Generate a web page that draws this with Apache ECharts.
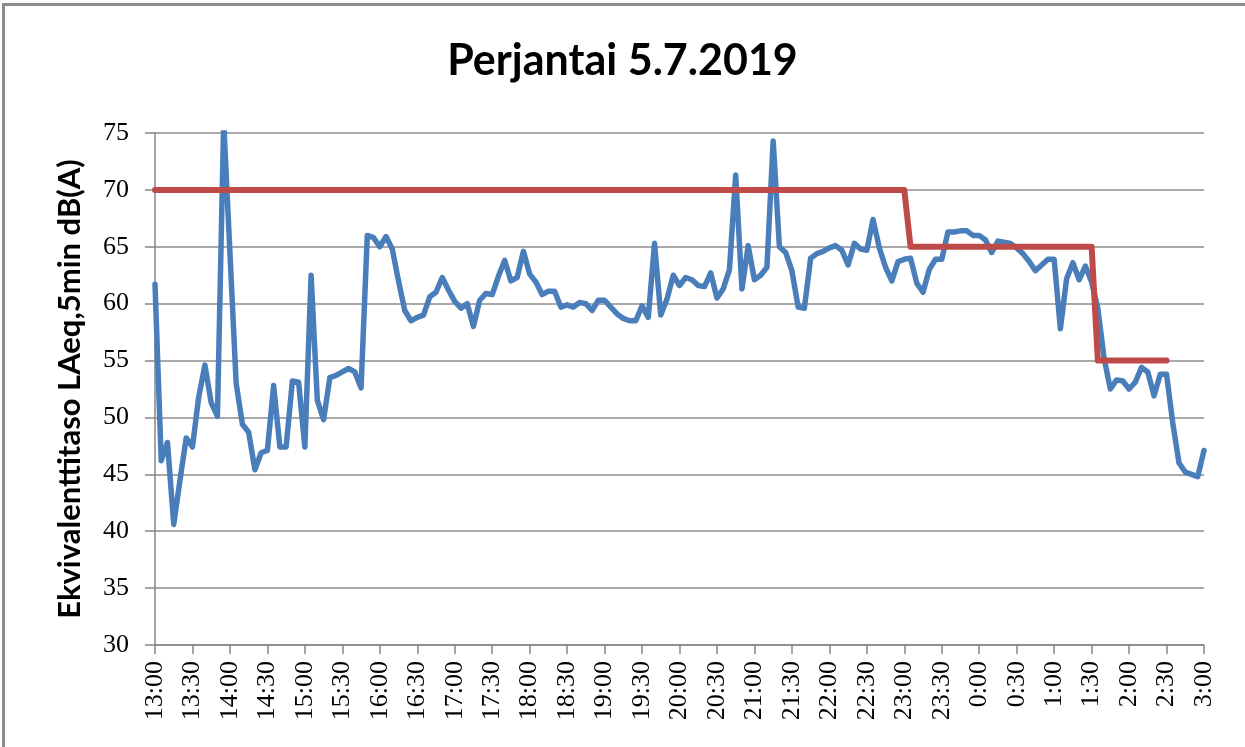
<!DOCTYPE html>
<html>
<head>
<meta charset="utf-8">
<title>Perjantai 5.7.2019</title>
<script src="https://cdn.jsdelivr.net/npm/echarts@6/dist/echarts.min.js"></script>
<style>
  html, body { margin: 0; padding: 0; background: #fff; }
  .frame {
    position: absolute; left: 2px; top: 3px; width: 1243px; height: 744px;
    border-top: 3px solid #8c8c8c; border-left: 3px solid #8c8c8c;
    box-sizing: border-box; pointer-events: none; z-index: 2;
  }
  #chart { position: absolute; left: 0; top: 0; width: 1245px; height: 747px; }
</style>
</head>
<body>
<div id="chart"></div>
<div class="frame"></div>
<script>
// mittaus 5 min välein klo 13:00 - 3:00
const startHour = 13;
const steps = 168;

// LAeq,5min dB(A)
const laeq = [
  61.7, 46.2, 47.8, 40.6, 44.5, 48.2, 47.4, 51.8, 54.6, 51.3,
  50.1, 76.0, 64.5, 53.0, 49.4, 48.7, 45.4, 46.9, 47.1, 52.8,
  47.4, 47.4, 53.2, 53.1, 47.4, 62.5, 51.5, 49.8, 53.5, 53.7,
  54.0, 54.3, 54.0, 52.6, 66.0, 65.8, 65.0, 65.9, 64.8, 62.0,
  59.4, 58.5, 58.8, 59.0, 60.6, 61.0, 62.3, 61.2, 60.2, 59.6,
  60.0, 58.0, 60.3, 60.9, 60.8, 62.4, 63.8, 62.0, 62.3, 64.6,
  62.6, 61.9, 60.8, 61.1, 61.1, 59.7, 59.9, 59.7, 60.1, 60.0,
  59.4, 60.3, 60.3, 59.7, 59.1, 58.7, 58.5, 58.5, 59.8, 58.8,
  65.3, 59.0, 60.4, 62.5, 61.6, 62.3, 62.1, 61.6, 61.5, 62.7,
  60.5, 61.3, 63.0, 71.3, 61.3, 65.1, 62.1, 62.5, 63.2, 74.3,
  65.0, 64.5, 62.9, 59.7, 59.6, 64.0, 64.4, 64.6, 64.9, 65.1,
  64.7, 63.4, 65.3, 64.8, 64.7, 67.4, 64.9, 63.2, 62.0, 63.7,
  63.9, 64.0, 61.8, 61.0, 63.0, 63.9, 63.9, 66.3, 66.3, 66.4,
  66.4, 66.0, 66.0, 65.6, 64.5, 65.5, 65.4, 65.3, 64.9, 64.4,
  63.7, 62.9, 63.4, 63.9, 63.9, 57.8, 62.2, 63.6, 62.1, 63.3,
  61.9, 59.6, 55.2, 52.5, 53.3, 53.2, 52.5, 53.1, 54.4, 54.0,
  51.9, 53.8, 53.8, 49.5, 46.0, 45.2, 45.0, 44.8, 47.1
];

// raja-arvo: 70 dB klo 23:00 asti, 65 dB klo 1:30 asti, 55 dB klo 2:30 asti
const limitLevels = [70, 65, 55];
const limitEnds = [120, 150, 162];

const yTicks = [30, 35, 40, 45, 50, 55, 60, 65, 70, 75];

const times = [];
for (let i = 0; i <= steps; i++) {
  const m = startHour * 60 + i * 5;
  const h = Math.floor(m / 60) % 24;
  const mm = m % 60;
  times.push(h + ':' + (mm < 10 ? '0' : '') + mm);
}

const limit = [];
for (let i = 0; i <= steps; i++) {
  let v = '-';
  for (let k = 0; k < limitEnds.length; k++) {
    if (i <= limitEnds[k]) { v = limitLevels[k]; break; }
  }
  limit.push(v);
}

const chart = echarts.init(document.getElementById('chart'));

const option = {
  animation: false,
  backgroundColor: '#fff',
  title: {
    text: 'Perjantai 5.7.2019',
    left: 'center',
    top: 35,
    textStyle: {
      fontFamily: 'Lato',
      fontWeight: 'bold',
      fontSize: 43,
      color: '#000'
    }
  },
  grid: {
    left: 155,
    right: 41,
    top: 133,
    bottom: 102
  },
  xAxis: {
    type: 'category',
    data: times,
    boundaryGap: false,
    axisLine: { lineStyle: { color: '#868686', width: 1.5 } },
    axisTick: {
      show: true,
      interval: 5,
      length: 9,
      lineStyle: { color: '#868686', width: 1.5 }
    },
    axisLabel: {
      interval: 5,
      rotate: 90,
      margin: 16,
      fontFamily: 'Liberation Serif',
      fontSize: 26,
      color: '#000'
    },
    splitLine: { show: false }
  },
  yAxis: {
    type: 'value',
    min: yTicks[0],
    max: yTicks[yTicks.length - 1],
    interval: 5,
    name: 'Ekvivalenttitaso LAeq,5min dB(A)',
    nameLocation: 'middle',
    nameGap: 70,
    nameTextStyle: {
      fontFamily: 'Lato',
      fontWeight: 'bold',
      fontSize: 31,
      color: '#000'
    },
    axisLine: { show: true, lineStyle: { color: '#868686', width: 1.5 } },
    axisTick: { show: true, length: 10, lineStyle: { color: '#868686', width: 1.5 } },
    axisLabel: {
      margin: 26,
      fontFamily: 'Liberation Serif',
      fontSize: 26,
      color: '#000'
    },
    splitLine: { lineStyle: { color: '#8c8c8c', width: 1.5 } }
  },
  series: [
    {
      name: 'LAeq',
      type: 'line',
      data: laeq,
      showSymbol: false,
      symbol: 'none',
      lineStyle: { color: '#4a7ebb', width: 5.5, cap: 'round', join: 'round' },
      z: 3
    },
    {
      name: 'Raja-arvo',
      type: 'line',
      data: limit,
      showSymbol: false,
      symbol: 'none',
      lineStyle: { color: '#be4b48', width: 6, cap: 'round', join: 'round' },
      z: 4
    }
  ]
};

chart.setOption(option);
window.addEventListener('resize', chart.resize);
</script>
</body>
</html>
